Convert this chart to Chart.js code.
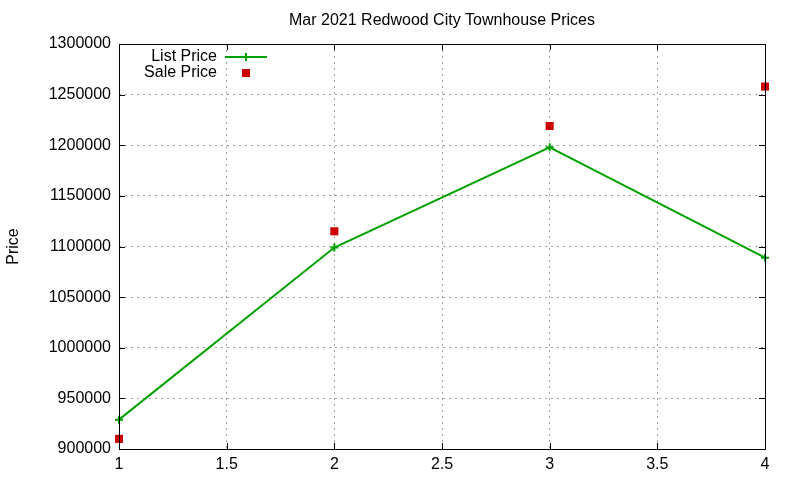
<!DOCTYPE html>
<html>
<head>
<meta charset="utf-8">
<script src="https://cdn.jsdelivr.net/npm/chart.js@4"></script>
<style>
  html, body { margin: 0; padding: 0; background: #fff; }
  #wrap { width: 800px; height: 480px; }
</style>
</head>
<body>
<div id="wrap"><canvas id="chart" width="800" height="480"></canvas></div>
<script>
/* Mar 2021 Redwood City townhouse prices */

const xValues    = [1, 2, 3, 4];
const listPrices = [929000, 1099000, 1198000, 1089000];
const salePrices = [910000, 1115000, 1219000, 1258000];
const chartTitle = 'Mar 2021 Redwood City Townhouse Prices';

const FONT = 'Liberation Sans, Arial, sans-serif';

// black frame round the plot area, with inward ticks like gnuplot
const frame = {
  id: 'frame',
  afterDraw(chart) {
    const { ctx, chartArea: a, scales } = chart;
    ctx.save();
    ctx.strokeStyle = '#000';
    ctx.lineWidth = 1;
    ctx.strokeRect(a.left + 0.5, a.top + 0.5, a.right - a.left, a.bottom - a.top);
    ctx.beginPath();
    scales.x.ticks.forEach(t => {
      const px = Math.round(scales.x.getPixelForValue(t.value)) + 0.5;
      ctx.moveTo(px, a.bottom); ctx.lineTo(px, a.bottom - 6);
      ctx.moveTo(px, a.top); ctx.lineTo(px, a.top + 6);
    });
    scales.y.ticks.forEach(t => {
      const py = Math.round(scales.y.getPixelForValue(t.value)) + 0.5;
      ctx.moveTo(a.left, py); ctx.lineTo(a.left + 6, py);
      ctx.moveTo(a.right, py); ctx.lineTo(a.right - 6, py);
    });
    ctx.stroke();

    // title, centred over the plot area
    ctx.fillStyle = '#000';
    ctx.font = '16px ' + FONT;
    ctx.textAlign = 'center';
    ctx.textBaseline = 'middle';
    ctx.fillText(chartTitle, (a.left + a.right) / 2, 21);
    ctx.restore();
  }
};

// gnuplot style key: label right aligned, sample on the right
const key = {
  id: 'key',
  afterDraw(chart) {
    const { ctx, chartArea: a } = chart;
    ctx.save();
    ctx.font = '16px ' + FONT;
    ctx.textAlign = 'right';
    ctx.textBaseline = 'middle';
    chart.data.datasets.forEach((ds, i) => {
      const y = a.top + 13 + i * 16;
      const tx = a.left + 98;
      ctx.fillStyle = '#000';
      ctx.fillText(ds.label, tx, y);
      const sx = tx + 8, ex = tx + 50, cx = (sx + ex) / 2;
      if (ds.showLine) {
        ctx.strokeStyle = ds.borderColor;
        ctx.lineWidth = 2;
        ctx.beginPath();
        ctx.moveTo(sx, y); ctx.lineTo(ex, y);
        ctx.moveTo(cx, y - 4); ctx.lineTo(cx, y + 4);
        ctx.stroke();
      } else {
        ctx.fillStyle = ds.backgroundColor;
        ctx.fillRect(cx - 4, y - 4, 8, 8);
      }
    });
    ctx.restore();
  }
};

new Chart(document.getElementById('chart'), {
  type: 'scatter',
  data: {
    datasets: [
      {
        label: 'List Price',
        data: xValues.map((x, i) => ({ x, y: listPrices[i] })),
        showLine: true,
        borderColor: '#00a000',
        backgroundColor: '#00a000',
        borderWidth: 2,
        pointStyle: 'cross',
        pointRadius: 4,
        pointBorderWidth: 2,
        clip: false
      },
      {
        label: 'Sale Price',
        data: xValues.map((x, i) => ({ x, y: salePrices[i] })),
        showLine: false,
        borderColor: '#cc0000',
        backgroundColor: '#cc0000',
        pointStyle: 'rect',
        pointRadius: 5.7,
        pointBorderWidth: 0,
        clip: false
      }
    ]
  },
  options: {
    responsive: false,
    animation: false,
    layout: { padding: { left: 0, right: 35, top: 44, bottom: 0 } },
    plugins: {
      legend: { display: false },
      tooltip: { enabled: false },
      title: { display: false }
    },
    scales: {
      x: {
        type: 'linear',
        min: 1, max: 4,
        afterFit(s) { s.height = 31; },
        ticks: {
          stepSize: 0.5, color: '#000', font: { family: FONT, size: 16 }, padding: 6, maxRotation: 0,
          callback: v => String(v)
        },
        grid: { color: '#a0a0a0', drawTicks: false },
        border: { display: false, dash: [2, 4] }
      },
      y: {
        min: 900000, max: 1300000,
        afterFit(s) { s.width = 119; },
        title: { display: true, text: 'Price', color: '#000', font: { family: FONT, size: 16 }, padding: { top: 4, bottom: 0 } },
        ticks: {
          stepSize: 50000, color: '#000', font: { family: FONT, size: 16 }, padding: 8,
          callback: v => String(v)
        },
        grid: { color: '#a0a0a0', drawTicks: false },
        border: { display: false, dash: [2, 4] }
      }
    }
  },
  plugins: [frame, key]
});
</script>
</body>
</html>
